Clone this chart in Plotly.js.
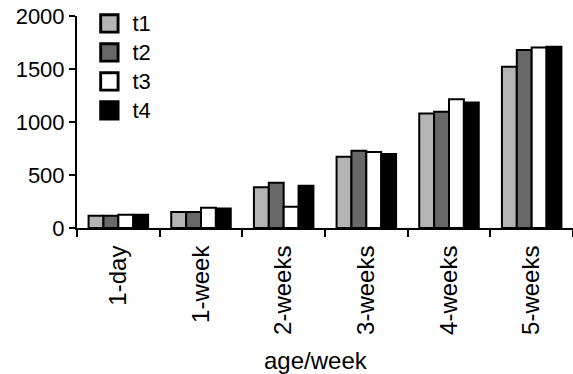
<!DOCTYPE html>
<html>
<head>
<meta charset="utf-8">
<script src="https://cdn.plot.ly/plotly-3.0.1.min.js"></script>
<style>
html,body{margin:0;padding:0;background:#fff;}
#chart{width:573px;height:374px;}
.legendpoints path{transform:translate(17px,0) scale(1.45);}
.legendtext{font-size:22px !important;}
</style>
</head>
<body>
<div id="chart"></div>
<script>
var categories = ["1-day", "1-week", "2-weeks", "3-weeks", "4-weeks", "5-weeks"];
var seriesNames = ["t1", "t2", "t3", "t4"];
var t1 = [115, 150, 385, 672, 1081, 1521];
var t2 = [115, 150, 427, 729, 1097, 1679];
var t3 = [125, 190, 201, 716, 1214, 1704];
var t4 = [125, 185, 399, 698, 1185, 1710];
var colors = ["#b4b4b4", "#686868", "#ffffff", "#000000"];
var yTicks = [0, 500, 1000, 1500, 2000];
var xTitle = "age/week";

var values = [t1, t2, t3, t4];
var traces = values.map(function (v, i) {
  return {
    type: "bar",
    name: seriesNames[i],
    x: categories,
    y: v,
    marker: { color: colors[i], line: { color: "#000", width: 2 } }
  };
});

var font = "Liberation Sans, Arial, sans-serif";
var layout = {
  width: 573, height: 374,
  margin: { l: 77, r: 0, t: 16, b: 146 },
  paper_bgcolor: "#fff", plot_bgcolor: "#fff",
  barmode: "group", bargap: 0.28, bargroupgap: 0,
  font: { family: font, size: 22, color: "#000" },
  showlegend: true,
  legend: {
    x: 0.031, y: 1.057, xanchor: "left", yanchor: "top",
    bgcolor: "rgba(0,0,0,0)", font: { family: font, size: 20, color: "#000" },
    tracegroupgap: 0, itemwidth: 30
  },
  xaxis: {
    type: "category",
    showline: true, linecolor: "#000", linewidth: 2,
    ticks: "outside", tickson: "boundaries", ticklen: 7, tickwidth: 2, tickcolor: "#000",
    ticklabelstandoff: 6,
    tickangle: -90, tickfont: { family: font, size: 24, color: "#000" },
    showgrid: false, zeroline: false
  },
  yaxis: {
    range: [0, 2000], tickvals: yTicks, ticktext: yTicks.map(String),
    showline: true, linecolor: "#000", linewidth: 2,
    ticks: "outside", ticklen: 6, tickwidth: 2, tickcolor: "#000",
    tickfont: { family: font, size: 22, color: "#000" },
    showgrid: false, zeroline: false
  },
  annotations: [{
    text: xTitle, xref: "paper", yref: "paper", x: 0.481, y: -0.627,
    xanchor: "center", yanchor: "middle", showarrow: false,
    font: { family: font, size: 24, color: "#000" }
  }]
};

Plotly.newPlot("chart", traces, layout, { staticPlot: true, displayModeBar: false });
</script>
</body>
</html>
